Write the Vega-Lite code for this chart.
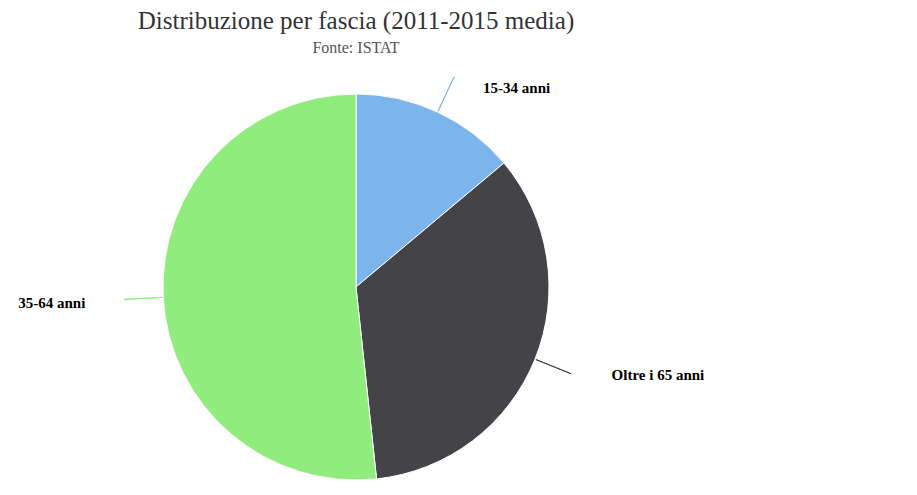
{
  "$schema": "https://vega.github.io/schema/vega-lite/v6.json",
  "width": 712,
  "height": 412,
  "autosize": {"type": "none"},
  "padding": {"left": 0, "top": 81, "right": 205, "bottom": 2},
  "background": "white",
  "title": {
    "text": "Distribuzione per fascia (2011-2015 media)",
    "subtitle": "Fonte: ISTAT",
    "font": "Liberation Serif",
    "fontSize": 25,
    "fontWeight": "normal",
    "color": "#333333",
    "subtitleFont": "Liberation Serif",
    "subtitleFontSize": 16,
    "subtitleColor": "#555555",
    "subtitlePadding": 6,
    "anchor": "middle",
    "offset": 19
  },
  "data": {
    "values": [
      {"fascia": "15-34 anni", "quota": 13.9},
      {"fascia": "Oltre i 65 anni", "quota": 34.4},
      {"fascia": "35-64 anni", "quota": 51.7}
    ]
  },
  "transform": [
    {"window": [{"op": "sum", "field": "quota", "as": "fine"}], "frame": [null, 0]},
    {"calculate": "datum.fine - datum.quota", "as": "inizio"},
    {"calculate": "(datum.inizio + datum.fine) / 2", "as": "meta"}
  ],
  "layer": [
    {
      "mark": {"type": "arc", "outerRadius": 193, "stroke": "white", "strokeWidth": 1},
      "encoding": {
        "theta": {"field": "inizio", "type": "quantitative", "stack": null, "scale": {"domain": [0, 100]}},
        "theta2": {"field": "fine"},
        "color": {
          "field": "fascia",
          "type": "nominal",
          "scale": {"domain": ["15-34 anni", "Oltre i 65 anni", "35-64 anni"], "range": ["#7cb5ec", "#434348", "#90ed7d"]},
          "legend": null
        }
      }
    },
    {
      "mark": {"type": "arc", "outerRadius": 232, "innerRadius": 194, "filled": false, "strokeWidth": 1},
      "encoding": {
        "theta": {"field": "meta", "type": "quantitative", "stack": null, "scale": {"domain": [0, 100]}},
        "theta2": {"field": "meta"},
        "color": {"field": "fascia", "type": "nominal", "legend": null}
      }
    },
    {
      "transform": [{"filter": "datum.fascia === '15-34 anni'"}],
      "mark": {"type": "text", "radius": 220, "align": "left", "baseline": "middle", "dx": 34, "dy": 0, "font": "Liberation Serif", "fontWeight": "bold", "fontSize": 15, "color": "#000000"},
      "encoding": {
        "theta": {"field": "meta", "type": "quantitative", "stack": null, "scale": {"domain": [0, 100]}},
        "text": {"field": "fascia"}
      }
    },
    {
      "transform": [{"filter": "datum.fascia === '35-64 anni'"}],
      "mark": {"type": "text", "radius": 240, "align": "right", "baseline": "middle", "dx": -31, "dy": 3, "font": "Liberation Serif", "fontWeight": "bold", "fontSize": 15, "color": "#000000"},
      "encoding": {
        "theta": {"field": "meta", "type": "quantitative", "stack": null, "scale": {"domain": [0, 100]}},
        "text": {"field": "fascia"}
      }
    },
    {
      "transform": [{"filter": "datum.fascia === 'Oltre i 65 anni'"}],
      "mark": {"type": "text", "radius": 240, "align": "left", "baseline": "middle", "dx": 33, "dy": -2, "font": "Liberation Serif", "fontWeight": "bold", "fontSize": 15, "color": "#000000"},
      "encoding": {
        "theta": {"field": "meta", "type": "quantitative", "stack": null, "scale": {"domain": [0, 100]}},
        "text": {"field": "fascia"}
      }
    }
  ]
}
